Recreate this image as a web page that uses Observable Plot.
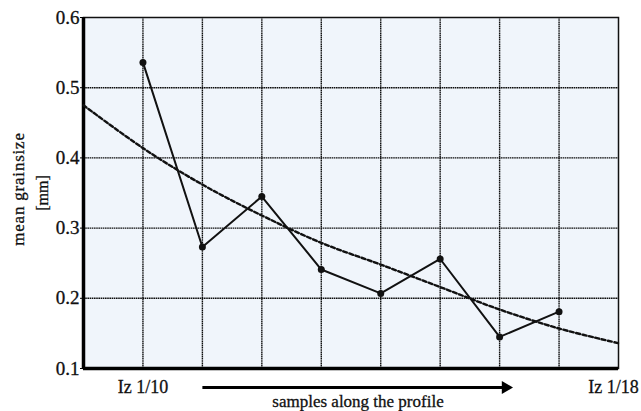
<!DOCTYPE html>
<html>
<head>
<meta charset="utf-8">
<script src="https://cdn.jsdelivr.net/npm/d3@7"></script>
<script src="https://cdn.jsdelivr.net/npm/@observablehq/plot@0.6"></script>
<style>
  html, body { margin: 0; padding: 0; background: #ffffff; }
  #chart { width: 641px; height: 411px; }
</style>
</head>
<body>
<div id="chart"></div>
<script>
// Sample positions along the profile and measured mean grain size [mm]
const samplePos = [1, 2, 3, 4, 5, 6, 7, 8];
const grainsize = [0.536, 0.273, 0.345, 0.241, 0.207, 0.256, 0.145, 0.181];

// Dashed trend curve
const trendPos = [0, 1, 2, 3, 4, 5, 6, 7, 8, 9];
const trendVal = [0.475, 0.414, 0.362, 0.318, 0.279, 0.248, 0.216, 0.184, 0.157, 0.136];

// Axis ticks and labels
const yTicks = [0.1, 0.2, 0.3, 0.4, 0.5, 0.6];
const yGrid = [0.2, 0.3, 0.4, 0.5];
const xGrid = [1, 2, 3, 4, 5, 6, 7, 8];
const endLabels = ["Iz 1/10", "Iz 1/18"];
const endLabelPos = [1, 9];
const arrowFrom = [2];
const arrowTo = [7.1];
const xTitle = "samples along the profile";
const yTitle1 = "mean grainsize";
const yTitle2 = "[mm]";

const points = samplePos.map((x, i) => ({x, y: grainsize[i]}));
const trend = trendPos.map((x, i) => ({x, y: trendVal[i]}));
const labels = endLabels.map((t, i) => ({x: endLabelPos[i], t}));
const arrow = arrowFrom.map((a, i) => ({a, b: arrowTo[i]}));

const font = "'Liberation Serif', 'Times New Roman', serif";

const svg = Plot.plot({
  width: 641,
  height: 411,
  marginLeft: 83,
  marginRight: 23,
  marginTop: 17,
  marginBottom: 43,
  style: {fontFamily: font, background: "#ffffff", color: "#111"},
  x: {domain: [0, 9], axis: null},
  y: {domain: [0.1, 0.6], axis: null},
  marks: [
    Plot.frame({fill: "#f0f5fb", stroke: null}),
    Plot.gridY(yGrid, {stroke: "#000", strokeOpacity: 0.95, strokeWidth: 1.4, strokeDasharray: "1.6,0.6"}),
    Plot.gridX(xGrid, {stroke: "#000", strokeOpacity: 0.95, strokeWidth: 1.4, strokeDasharray: "1.6,0.6"}),
    Plot.frame({stroke: "#111", strokeWidth: 1.5}),
    Plot.ruleX([0], {stroke: "#000", strokeWidth: 3.5}),
    Plot.ruleY([0.1], {stroke: "#000", strokeWidth: 3.5}),
    Plot.axisY(yTicks, {label: null, tickFormat: d3.format(".1f"), tickSize: 3, tickPadding: 1, fontSize: 19, stroke: "#000", fill: "#111"}),
    Plot.line(trend, {x: "x", y: "y", curve: "catmull-rom", stroke: "#111", strokeWidth: 2.4, strokeDasharray: "4,2.5"}),
    Plot.line(points, {x: "x", y: "y", stroke: "#111", strokeWidth: 2}),
    Plot.dot(points, {x: "x", y: "y", r: 3.5, fill: "#111", stroke: null}),
    Plot.text(labels, {x: "x", text: "t", frameAnchor: "bottom", textAnchor: "middle", dy: 19, lineAnchor: "middle", fontSize: 18, fill: "#111"}),
    Plot.link(arrow, {x1: "a", x2: "b", y1: 0.1, y2: 0.1, dy: 19, stroke: "#000", strokeWidth: 3.2}),
    Plot.dot(arrow, {x: "b", y: 0.1, dy: 19, symbol: "triangle", rotate: 90, r: 4.8, fill: "#000", stroke: null}),
    Plot.text([xTitle], {frameAnchor: "bottom", textAnchor: "middle", dy: 33, dx: 7, lineAnchor: "middle", fontSize: 17, fill: "#111"}),
    Plot.text([yTitle1], {frameAnchor: "left", textAnchor: "middle", dx: -65, dy: -4, rotate: -90, lineAnchor: "middle", fontSize: 17, fill: "#111"}),
    Plot.text([yTitle2], {frameAnchor: "left", textAnchor: "middle", dx: -41, rotate: -90, lineAnchor: "middle", fontSize: 16, fill: "#111"})
  ]
});

// slight letter spacing on the y title to match the stretched scan
d3.select(svg).selectAll("text").filter(function () { return this.textContent === yTitle1; })
  .attr("letter-spacing", "0.8px");
// keep the right end label inside the page
d3.select(svg).selectAll("text").filter(function () { return this.textContent === endLabels[1]; })
  .attr("dx", "-5");
// slightly heavier text, like the scanned print
d3.select(svg).selectAll("text").attr("stroke", "#111").attr("stroke-width", 0.3);

document.getElementById("chart").appendChild(svg);
</script>
</body>
</html>
